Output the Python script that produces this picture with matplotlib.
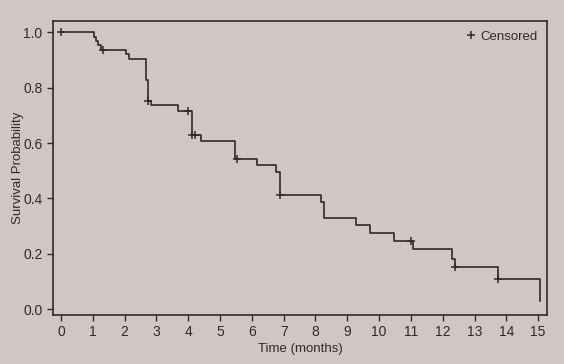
import matplotlib
matplotlib.use("Agg")
import matplotlib.pyplot as plt
from matplotlib.ticker import FormatStrFormatter

# Kaplan-Meier curve: event times (months) and survival after each step
times = [0, 1.04, 1.10, 1.17, 1.25, 2.04, 2.15, 2.67, 2.72, 2.82, 3.67, 4.11, 4.39,
         5.47, 6.17, 6.76, 6.88, 8.18, 8.27, 9.28, 9.70, 10.47, 11.08, 12.28, 12.37,
         13.75, 15.06]
surv = [1.0, 0.984, 0.968, 0.953, 0.937, 0.92, 0.902, 0.826, 0.752, 0.736, 0.714, 0.63, 0.607,
        0.543, 0.519, 0.495, 0.411, 0.387, 0.33, 0.303, 0.276, 0.246, 0.216, 0.183, 0.153,
        0.11, 0.03]

# censored observations
cens_t = [0.0, 1.33, 2.74, 4.0, 4.11, 4.21, 5.52, 6.89, 11.0, 12.37, 13.75]
cens_s = [1.0, 0.937, 0.752, 0.714, 0.63, 0.63, 0.543, 0.411, 0.246, 0.153, 0.11]

xticks = list(range(0, 16))
yticks = [0.0, 0.2, 0.4, 0.6, 0.8, 1.0]

bg = '#d0c6c6'
ink = '#2e2a2b'
plt.rcParams['font.family'] = ['Liberation Sans', 'DejaVu Sans']

fig = plt.figure(figsize=(5.64, 3.64), dpi=100, facecolor=bg)
ax = fig.add_axes([0.094, 0.135, 0.876, 0.807], facecolor=bg)

ax.step(times, surv, where='post', color=ink, lw=1.2)
ax.plot(cens_t, cens_s, linestyle='none', marker='+', color=ink, ms=5.5, mew=1.1,
        label='Censored')

ax.set_xlim(-0.25, 15.28)
ax.set_ylim(-0.02, 1.04)
ax.set_xticks(xticks)
ax.set_yticks(yticks)
ax.yaxis.set_major_formatter(FormatStrFormatter('%.1f'))
ax.tick_params(colors=ink, labelsize=10, length=4, width=1)
for s in ax.spines.values():
    s.set_color(ink)
    s.set_linewidth(1.2)

ax.set_xlabel('Time (months)', fontsize=9.5, color=ink, labelpad=3)
ax.set_ylabel('Survival Probability', fontsize=9.5, color=ink)
ax.yaxis.set_label_coords(-0.058, 0.5)

leg = ax.legend(loc='upper right', frameon=False, fontsize=9.5, handlelength=0.6,
                handletextpad=0.4, borderaxespad=0.3)
for t in leg.get_texts():
    t.set_color(ink)

fig.savefig('out.png', dpi=100, facecolor=bg)
